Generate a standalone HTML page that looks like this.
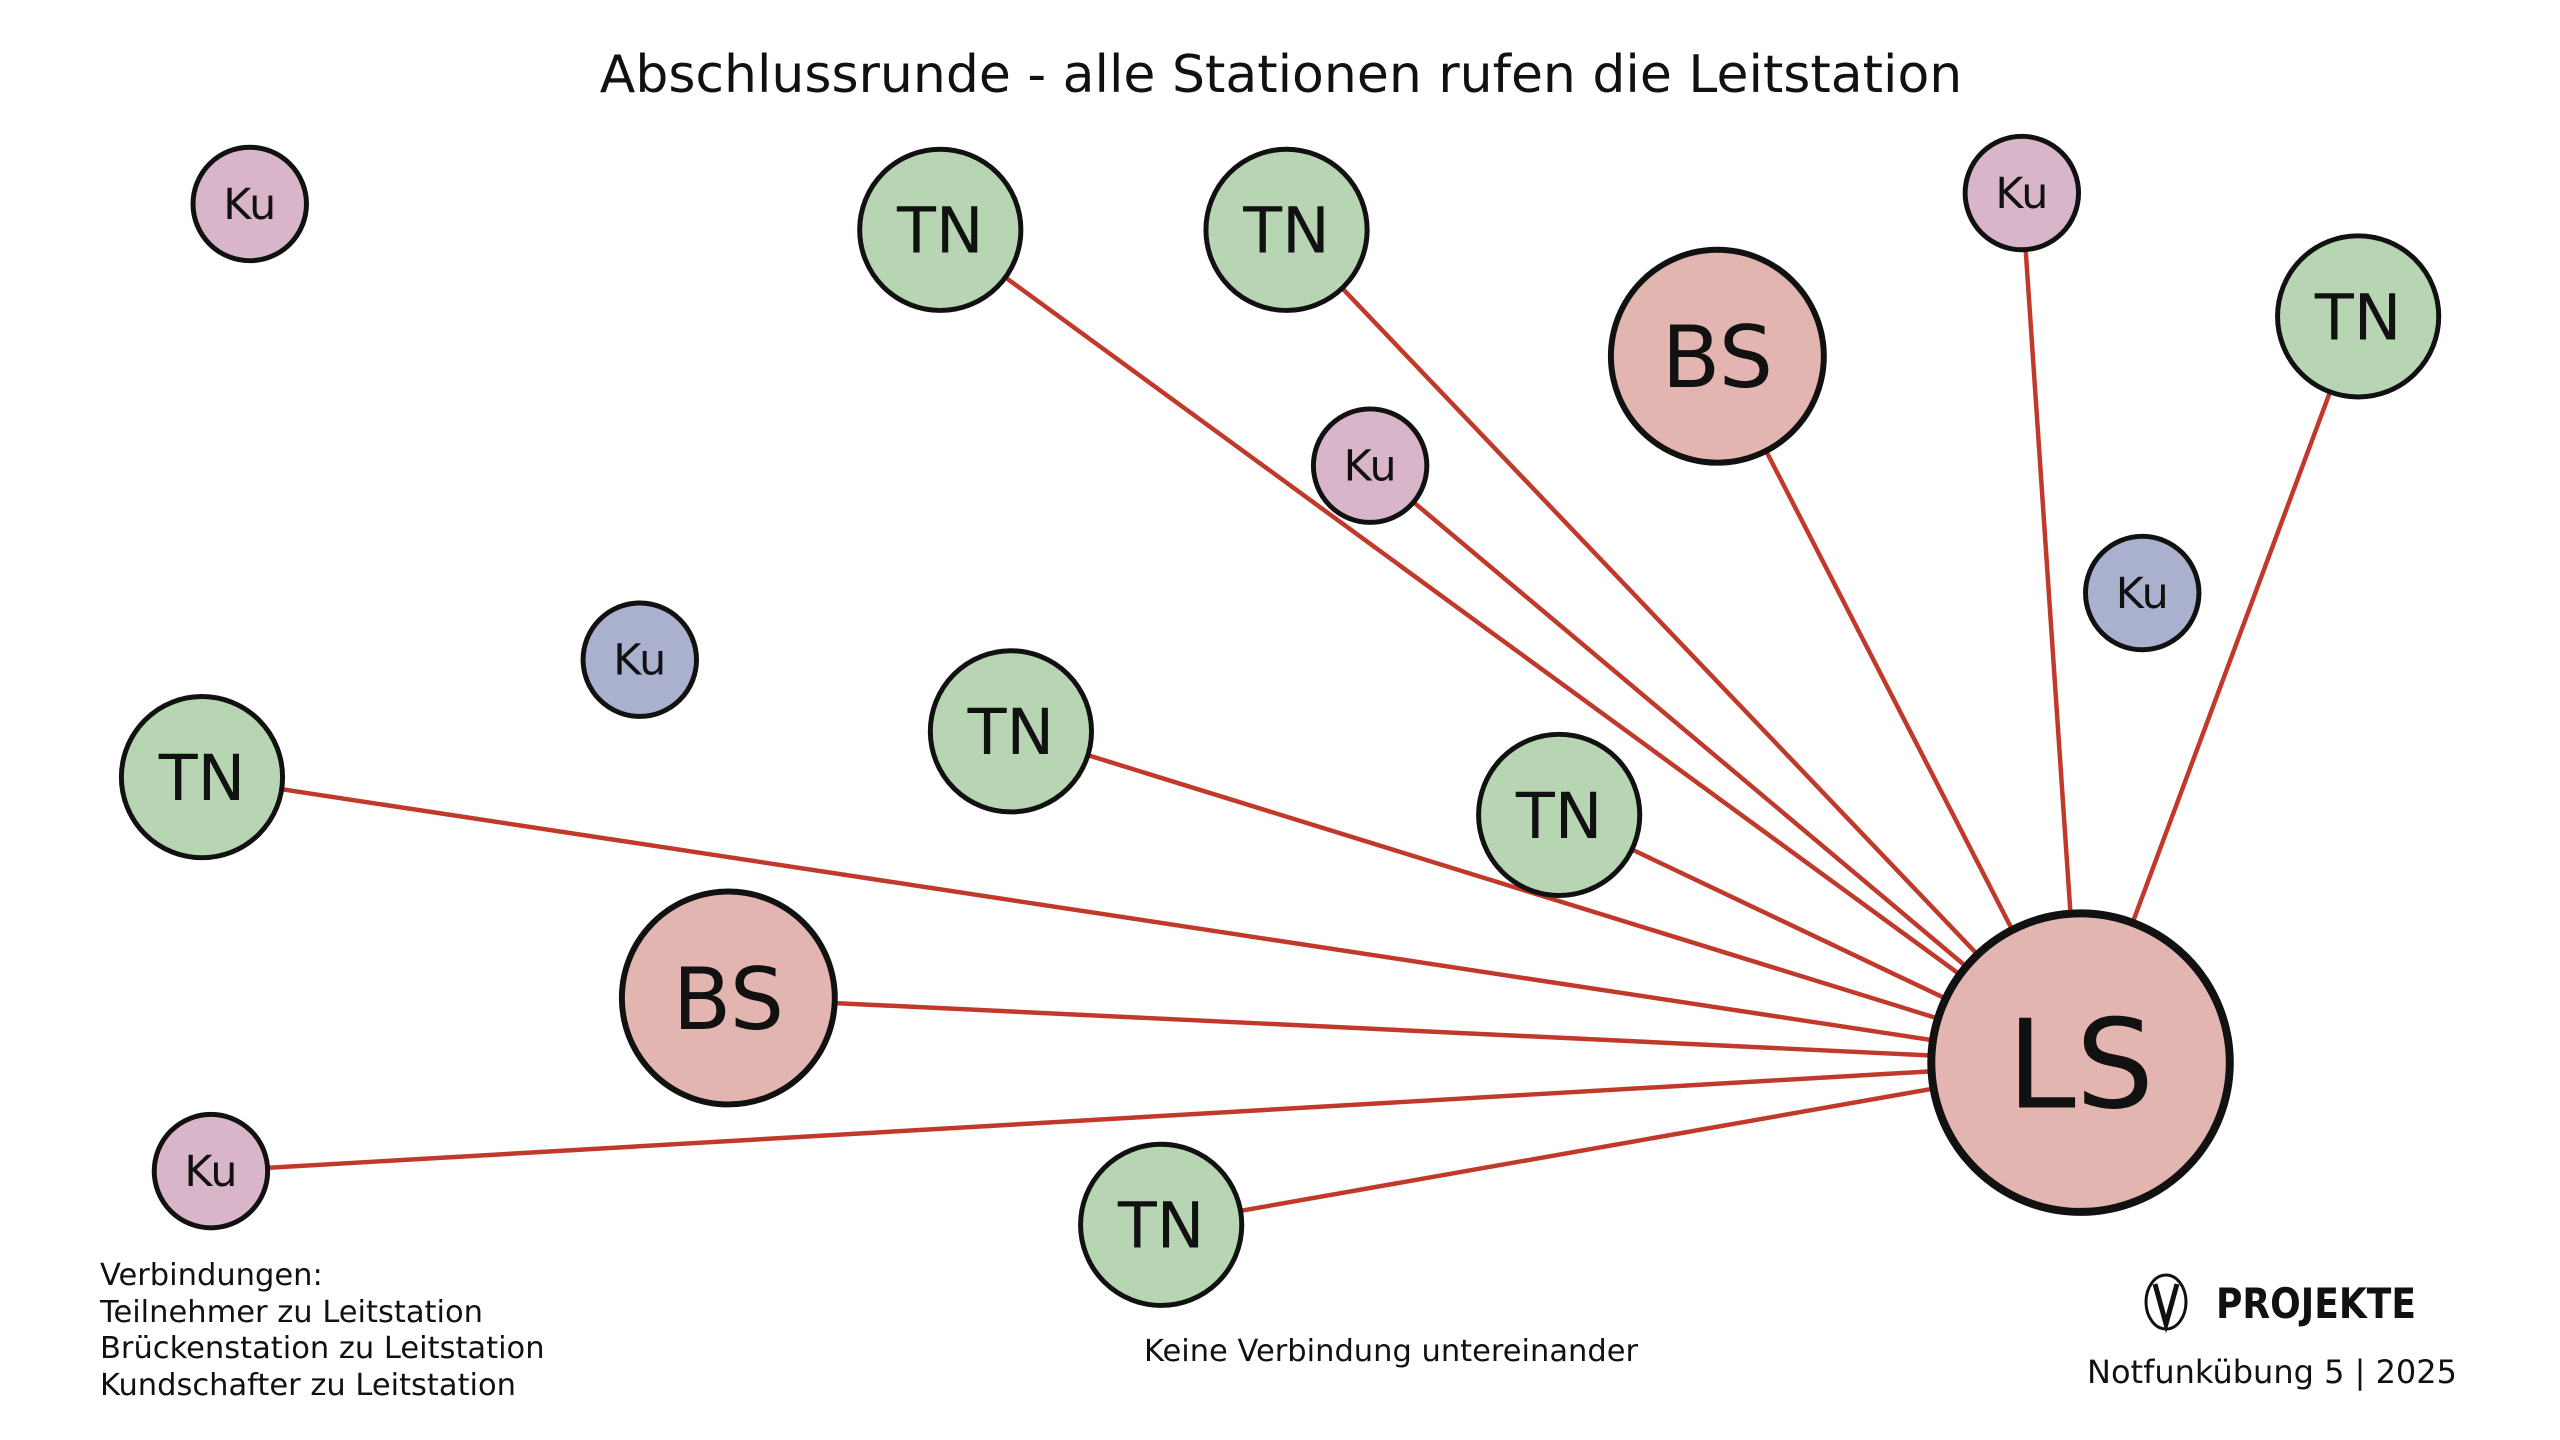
<!DOCTYPE html>
<html><head><meta charset="utf-8"><style>
html,body{margin:0;padding:0;background:#fff;}
svg{display:block;font-family:"DejaVu Sans","Liberation Sans",sans-serif;}
</style></head><body>
<svg width="2560" height="1440" viewBox="0 0 2560 1440" xmlns="http://www.w3.org/2000/svg">
<rect width="2560" height="1440" fill="#fff"/>
<text x="1281" y="92" font-size="52" text-anchor="middle" fill="#111">Abschlussrunde - alle Stationen rufen die Leitstation</text>
<g transform="scale(0.995)">
<g stroke="#c0392b" stroke-width="4.5">
<line x1="945" y1="231" x2="2091" y2="1068"/>
<line x1="1293" y1="231" x2="2091" y2="1068"/>
<line x1="1377" y1="468" x2="2091" y2="1068"/>
<line x1="1726" y1="358" x2="2091" y2="1068"/>
<line x1="2032" y1="194" x2="2091" y2="1068"/>
<line x1="2370" y1="318" x2="2091" y2="1068"/>
<line x1="1016" y1="735" x2="2091" y2="1068"/>
<line x1="203" y1="781" x2="2091" y2="1068"/>
<line x1="1567" y1="819" x2="2091" y2="1068"/>
<line x1="732" y1="1003" x2="2091" y2="1068"/>
<line x1="212" y1="1177" x2="2091" y2="1068"/>
<line x1="1167" y1="1231" x2="2091" y2="1068"/>
</g>
<g stroke="#111" stroke-width="5" text-anchor="middle" fill="#111">
<g font-size="43">
<circle cx="251" cy="205" r="57" fill="#d8b5c9"/><text x="251" y="220" stroke="none">Ku</text>
<circle cx="2032" cy="194" r="57" fill="#d8b5c9"/><text x="2032" y="209" stroke="none">Ku</text>
<circle cx="1377" cy="468" r="57" fill="#d8b5c9"/><text x="1377" y="483" stroke="none">Ku</text>
<circle cx="212" cy="1177" r="57" fill="#d8b5c9"/><text x="212" y="1192" stroke="none">Ku</text>
<circle cx="2153" cy="596" r="57" fill="#aab1cf"/><text x="2153" y="611" stroke="none">Ku</text>
<circle cx="643" cy="663" r="57" fill="#aab1cf"/><text x="643" y="678" stroke="none">Ku</text>
</g>
<g font-size="64">
<circle cx="945" cy="231" r="81" fill="#b7d5b3"/><text x="945" y="254" stroke="none">TN</text>
<circle cx="1293" cy="231" r="81" fill="#b7d5b3"/><text x="1293" y="254" stroke="none">TN</text>
<circle cx="2370" cy="318" r="81" fill="#b7d5b3"/><text x="2370" y="341" stroke="none">TN</text>
<circle cx="1016" cy="735" r="81" fill="#b7d5b3"/><text x="1016" y="758" stroke="none">TN</text>
<circle cx="203" cy="781" r="81" fill="#b7d5b3"/><text x="203" y="804" stroke="none">TN</text>
<circle cx="1567" cy="819" r="81" fill="#b7d5b3"/><text x="1567" y="842" stroke="none">TN</text>
<circle cx="1167" cy="1231" r="81" fill="#b7d5b3"/><text x="1167" y="1254" stroke="none">TN</text>
</g>
<g font-size="86">
<circle cx="1726" cy="358" r="107" fill="#e3b5b0" stroke-width="6"/><text x="1726" y="389" stroke="none">BS</text>
<circle cx="732" cy="1003" r="107" fill="#e3b5b0" stroke-width="6"/><text x="732" y="1034" stroke="none">BS</text>
</g>
<circle cx="2091" cy="1068" r="150" fill="#e3b5b0" stroke-width="8"/><text x="2091" y="1113" font-size="124" stroke="none">LS</text>
</g>
</g>
<g font-size="30.5" fill="#111">
<text x="100" y="1285">Verbindungen:</text>
<text x="100" y="1322">Teilnehmer zu Leitstation</text>
<text x="100" y="1358">Brückenstation zu Leitstation</text>
<text x="100" y="1395">Kundschafter zu Leitstation</text>
<text x="1391" y="1361" text-anchor="middle">Keine Verbindung untereinander</text>
</g>
<g>
<ellipse cx="2166" cy="1302" rx="20" ry="27" fill="none" stroke="#111" stroke-width="3"/>
<path d="M2155 1284 L2166 1324 L2177 1284" fill="none" stroke="#111" stroke-width="5"/>
<text x="2216" y="1318" font-size="42" font-weight="bold" fill="#111" font-family="'DejaVu Sans Condensed','DejaVu Sans',sans-serif" textLength="200" lengthAdjust="spacingAndGlyphs">PROJEKTE</text>
<text x="2272" y="1383" font-size="32" text-anchor="middle" fill="#111">Notfunkübung 5 | 2025</text>
</g>
</svg>
</body></html>
